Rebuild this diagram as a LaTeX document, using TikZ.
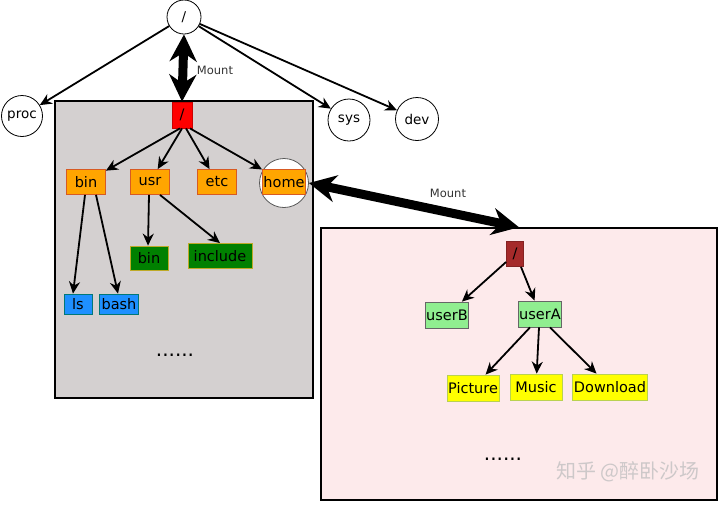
\documentclass[tikz,border=0pt]{standalone}
\usepackage{fontspec}
\setmainfont{DejaVu Sans}
\newfontfamily\cjk{Noto Sans CJK SC}
\usetikzlibrary{arrows.meta, positioning}
\definecolor{FsGray}{RGB}{212,208,208}
\definecolor{FsPink}{RGB}{253,234,235}
\definecolor{DirOrange}{RGB}{255,165,0}
\definecolor{DirOrangeEdge}{RGB}{215,90,35}
\definecolor{DirGreen}{RGB}{0,128,0}
\definecolor{DirGreenEdge}{RGB}{190,170,40}
\definecolor{FileBlue}{RGB}{30,144,255}
\definecolor{FileBlueEdge}{RGB}{0,120,120}
\definecolor{RootBrown}{RGB}{165,42,42}
\definecolor{UserGreen}{RGB}{144,238,144}
\definecolor{HomeYellow}{RGB}{255,255,0}
\definecolor{HomeYellowEdge}{RGB}{185,210,80}
\definecolor{MarkGray}{RGB}{205,200,201}

\begin{document}
\begin{tikzpicture}[x=1pt,y=-1pt,
        ring/.style={circle,draw,fill=white,inner sep=0pt,line width=0.8pt,
                     font=\fontsize{13.5}{15}\selectfont},
        fsbox/.style={draw=black,line width=1.5pt,inner sep=0pt},
        box/.style={inner sep=1pt,line width=0.8pt,minimum height=25pt,
                    font=\fontsize{14.5}{16}\selectfont},
        dir/.style={box,fill=DirOrange,draw=DirOrangeEdge},
        sub/.style={box,fill=DirGreen,draw=DirGreenEdge},
        bin/.style={box,fill=FileBlue,draw=FileBlueEdge,minimum height=20pt},
        usr/.style={box,fill=UserGreen,draw=gray!80!black,minimum height=26pt},
        leaf/.style={box,fill=HomeYellow,draw=HomeYellowEdge,minimum height=26pt},
        arr/.style={-{Stealth[length=12pt,width=11pt]},line width=1.8pt},
        mnt/.style={{Stealth[length=27pt,width=27pt]}-{Stealth[length=27pt,width=27pt]},
                    line width=9pt},
        lbl/.style={font=\fontsize{11.5}{13}\selectfont,text=black!80},
        dots/.style={font=\fontsize{20}{22}\selectfont}
      ]
        \useasboundingbox (0,0) rectangle (720,504);
        % the two file systems
        \node[fsbox,fill=FsGray,minimum width=258pt,minimum height=297pt] (fsa) at (184,249.5) {};
        \node[fsbox,fill=FsPink,minimum width=396pt,minimum height=272pt] (fsb) at (519,364) {};
        % top level
        \node[ring,minimum size=34pt] (top) at (184,17) {/};
        \node[ring,minimum size=41pt] (proc) at (22,116) {proc};
        \node[ring,minimum size=42pt] (sys) at (349,120) {sys};
        \node[ring,minimum size=43pt] (dev) at (417,119) {dev};
        % first file system
        \node[box,fill=red,draw=red!80!black,minimum width=20pt,minimum height=26pt] (rta) at (182,115) {/};
        \node[ring,minimum size=49pt,draw=gray!70!black] (homering) at (284,183) {};
        \node[dir,minimum width=39pt] (bin) at (86,182) {bin};
        \node[dir,minimum width=39pt] (usr) at (150,182) {usr};
        \node[dir,minimum width=39pt] (etc) at (217,182) {etc};
        \node[dir,minimum width=43pt] (home) at (284,182) {home};
        \node[sub,minimum width=38pt,minimum height=24pt] (ubin) at (149,258) {bin};
        \node[sub,minimum width=64pt] (include) at (220,256) {include};
        \node[bin,minimum width=28pt] (ls) at (78,304) {ls};
        \node[bin,minimum width=39pt] (bash) at (119,304) {bash};
        \node[dots] (moreA) at (175,355) {......};
        % second file system
        \node[box,fill=RootBrown,draw=RootBrown!80!black,minimum width=17pt] (rtb) at (515,254) {/};
        \node[usr,minimum width=43pt] (userB) at (447,315) {userB};
        \node[usr,minimum width=43pt] (userA) at (540,314) {userA};
        \node[leaf,minimum width=52pt] (pic) at (473,388) {Picture};
        \node[leaf,minimum width=52pt] (music) at (536,387) {Music};
        \node[leaf,minimum width=75pt] (down) at (610,387) {Download};
        \node[dots] (moreB) at (503,459) {......};
        \node[font=\cjk\fontsize{20}{22}\selectfont,text=MarkGray] (mark) at (628,472) {知乎 @醉卧沙场};
        % links
        \draw[arr] (top) -- (proc);
        \draw[arr] (top) -- (sys);
        \draw[arr] (top) -- (dev);
        \draw[arr] ([xshift=-2pt]rta.south) -- (bin);
        \draw[arr] ([xshift=0pt]rta.south) -- (usr);
        \draw[arr] ([xshift=4pt]rta.south) -- (etc);
        \draw[arr] ([xshift=8pt]rta.south) -- (home);
        \draw[arr] ([xshift=-1pt]bin.south) -- ([xshift=-5pt]ls.north);
        \draw[arr] ([xshift=10pt]bin.south) -- ([xshift=-1pt]bash.north);
        \draw[arr] ([xshift=-1pt]usr.south) -- ([xshift=-1pt]ubin.north);
        \draw[arr] ([xshift=10pt]usr.south) -- ([xshift=0pt]include.north);
        \draw[arr] (rtb) -- (userB);
        \draw[arr] ([xshift=6pt]rtb.south) -- (userA);
        \draw[arr] ([xshift=-10pt]userA.south) -- (pic);
        \draw[arr] ([xshift=-1pt]userA.south) -- (music);
        \draw[arr] ([xshift=10pt]userA.south) -- (down);
        % mounts
        \draw[mnt] (top.south) -- (rta.north);
        \node[lbl] (mnta) at (215,70) {Mount};
        \draw[mnt] (homering.east) -- (fsb.north);
        \node[lbl] (mntb) at (448,193) {Mount};
      \end{tikzpicture}
\end{document}
